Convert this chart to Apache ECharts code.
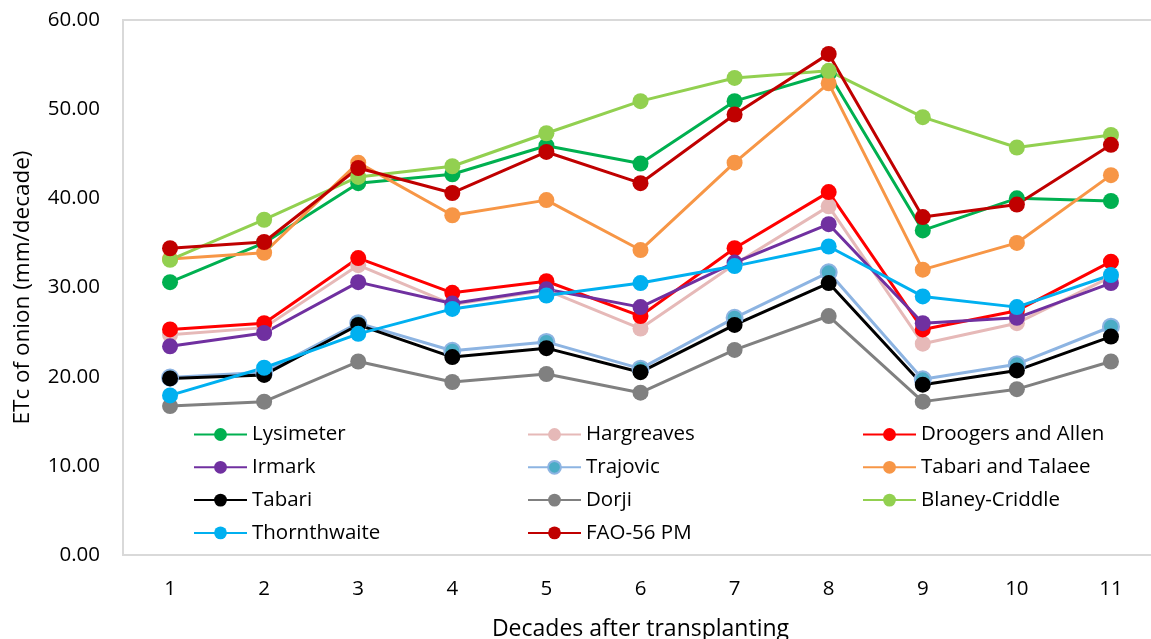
<!DOCTYPE html>
<html>
<head>
<meta charset="utf-8">
<title>ETc of onion</title>
<script src="https://cdn.jsdelivr.net/npm/echarts@6/dist/echarts.min.js"></script>
<style>
  html, body { margin: 0; padding: 0; background: #fff; }
  #chart { width: 1151px; height: 639px; }
</style>
</head>
<body>
<div id="chart"></div>
<script>
// Decades after transplanting
const decades = ['1', '2', '3', '4', '5', '6', '7', '8', '9', '10', '11'];

// Crop evapotranspiration (mm/decade) by method
const lysimeter     = [30.6, 35.0, 41.7, 42.7, 45.9, 43.9, 50.9, 54.0, 36.4, 40.0, 39.7];
const hargreaves    = [24.7, 25.5, 32.5, 28.1, 29.7, 25.4, 32.6, 39.1, 23.7, 26.0, 31.2];
const droogersAllen = [25.3, 26.0, 33.3, 29.4, 30.7, 26.8, 34.4, 40.7, 25.3, 27.4, 32.9];
const irmark        = [23.4, 24.9, 30.6, 28.2, 29.8, 27.8, 32.8, 37.1, 26.0, 26.6, 30.5];
const trajovic      = [19.9, 20.5, 26.0, 22.9, 23.9, 20.9, 26.6, 31.7, 19.7, 21.4, 25.6];
const tabariTalaee  = [33.2, 33.9, 44.0, 38.1, 39.8, 34.2, 44.0, 52.9, 32.0, 35.0, 42.6];
const tabari        = [19.8, 20.2, 25.8, 22.2, 23.2, 20.5, 25.8, 30.5, 19.1, 20.7, 24.5];
const dorji         = [16.7, 17.2, 21.7, 19.4, 20.3, 18.2, 23.0, 26.8, 17.2, 18.6, 21.7];
const blaneyCriddle = [33.1, 37.6, 42.4, 43.6, 47.3, 50.9, 53.5, 54.3, 49.1, 45.7, 47.1];
const thornthwaite  = [17.9, 21.0, 24.8, 27.6, 29.1, 30.5, 32.4, 34.6, 29.0, 27.8, 31.4];
const fao56pm       = [34.4, 35.1, 43.4, 40.6, 45.2, 41.7, 49.4, 56.2, 37.9, 39.3, 46.0];

// Y axis ticks
const yTicks = [0, 10, 20, 30, 40, 50, 60];

const FONT = '"Open Sans", "Noto Sans", sans-serif';

function line(name, data, color, fill) {
  return {
    name: name,
    type: 'line',
    data: data,
    symbol: 'circle',
    symbolSize: 16,
    lineStyle: { color: color, width: 3 },
    itemStyle: fill
      ? { color: fill, borderColor: color, borderWidth: 2 }
      : { color: color },
    emphasis: { disabled: true },
    animation: false
  };
}

const series = [
  line('Lysimeter', lysimeter, '#00B050'),
  line('Hargreaves', hargreaves, '#E6B9B8'),
  line('Droogers and Allen', droogersAllen, '#FF0000'),
  line('Irmark', irmark, '#7030A0'),
  line('Trajovic', trajovic, '#8DB4E2', '#4BACC6'),
  line('Tabari and Talaee', tabariTalaee, '#F79646'),
  line('Tabari', tabari, '#000000'),
  line('Dorji', dorji, '#808080'),
  line('Blaney-Criddle', blaneyCriddle, '#92D050'),
  line('Thornthwaite', thornthwaite, '#00B0F0'),
  line('FAO-56 PM', fao56pm, '#C00000')
];

const names = series.map(s => s.name);
// three legend columns, filled row by row
const columns = [[], [], []];
names.forEach((n, i) => columns[i % 3].push(n));
const colLeft = [193, 527, 862];

const legends = columns.map((data, c) => ({
  data: data,
  orient: 'vertical',
  left: colLeft[c],
  top: 424,
  padding: 0,
  itemWidth: 53,
  itemHeight: 16,
  itemGap: 11.8,
  textStyle: { fontFamily: FONT, fontSize: 20.5, lineHeight: 21, color: '#000' },
  selectedMode: false
}));

const chart = echarts.init(document.getElementById('chart'), null, { renderer: 'canvas' });
chart.setOption({
  backgroundColor: '#fff',
  animation: false,
  grid: {
    left: 123, top: 20, right: -7, bottom: 84,
    outerBoundsMode: 'none',
    containLabel: false,
    show: true, borderColor: '#D9D9D9', borderWidth: 2, backgroundColor: 'transparent'
  },
  legend: legends,
  xAxis: {
    type: 'category',
    data: decades,
    boundaryGap: true,
    name: 'Decades after transplanting',
    nameLocation: 'middle',
    nameGap: 63,
    nameTextStyle: { fontFamily: FONT, fontSize: 23, color: '#000' },
    axisLine: { show: true, lineStyle: { color: '#D9D9D9', width: 2 } },
    axisTick: { show: false },
    axisLabel: { fontFamily: FONT, fontSize: 20.5, color: '#000', margin: 24 }
  },
  yAxis: {
    type: 'value',
    min: yTicks[0],
    max: yTicks[yTicks.length - 1],
    interval: yTicks[1] - yTicks[0],
    name: 'ETc of onion (mm/decade)',
    nameLocation: 'middle',
    nameGap: 89,
    nameTextStyle: { fontFamily: FONT, fontSize: 22.5, color: '#000' },
    axisLine: { show: true, lineStyle: { color: '#D9D9D9', width: 2 } },
    axisTick: { show: false },
    splitLine: { show: false },
    axisLabel: {
      fontFamily: FONT, fontSize: 20.5, color: '#000', margin: 23,
      formatter: v => v.toFixed(2)
    }
  },
  series: series
});
</script>
</body>
</html>
